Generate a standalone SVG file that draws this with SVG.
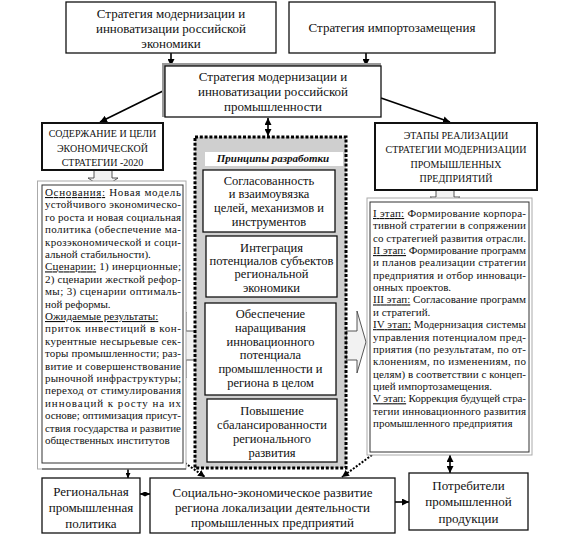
<svg xmlns="http://www.w3.org/2000/svg" width="568" height="535" viewBox="0 0 568 535">
<style>
.box{fill:#fff;stroke:#111;stroke-width:1.3}
.bb{stroke-width:2}
.t{font-family:"Liberation Serif","Times New Roman",serif;font-size:13px;text-anchor:middle;fill:#111}
.p{font-size:12.5px}
.c{font-size:10px}
.s{font-family:"Liberation Serif","Times New Roman",serif;font-size:11px;fill:#111}
.u{text-decoration:underline}
.ln{stroke:#000;stroke-width:1.6;fill:none}
.dl{stroke:#000;stroke-width:2;stroke-dasharray:2 1.6;fill:none}
.blk{fill:#f2f2f2;stroke:#444;stroke-width:0.9}
</style>
<defs>
<marker id="ah" viewBox="0 0 10 10" refX="10" refY="5" markerWidth="7" markerHeight="7" orient="auto-start-reverse" markerUnits="userSpaceOnUse"><path d="M0,0 L10,5 L0,10 z" fill="#000"/></marker>
<marker id="as" viewBox="0 0 10 10" refX="10" refY="5" markerWidth="5" markerHeight="5" orient="auto-start-reverse" markerUnits="userSpaceOnUse"><path d="M0,0 L10,5 L0,10 z" fill="#000"/></marker>
</defs>

<g id="block-arrows">
<polygon class="blk" points="94,170 112,170 112,178 118,178 103,188 88,178 94,178"/>
<polygon class="blk" points="436,190 454,190 454,197 460,197 445,206 430,197 436,197"/>
<polygon class="blk" points="197,331 186,331 186,312 172,345 186,378 186,360 197,360"/>
<polygon class="blk" points="346,331 357,331 357,311 366,342 357,373 357,360 346,360"/>
</g>

<g id="connectors">
<line class="ln" x1="171" y1="53" x2="171" y2="66" marker-end="url(#ah)"/>
<line class="ln" x1="366" y1="53" x2="366" y2="66" marker-end="url(#ah)"/>
<line class="ln" x1="165" y1="90" x2="100" y2="122" marker-end="url(#ah)"/>
<line class="ln" x1="381" y1="98" x2="450" y2="122" marker-end="url(#ah)"/>
<line class="ln" x1="268" y1="118" x2="268" y2="136" marker-start="url(#ah)" marker-end="url(#ah)"/>
<line class="ln" x1="128" y1="469" x2="128" y2="478" marker-end="url(#as)"/>
<line class="ln" x1="140" y1="494" x2="150" y2="494" marker-start="url(#as)" marker-end="url(#as)"/>
<line class="ln" x1="395" y1="502" x2="409" y2="502" marker-end="url(#ah)"/>
<line class="ln" x1="450" y1="455" x2="450" y2="473" marker-start="url(#ah)" marker-end="url(#ah)"/>
<line class="dl" x1="185" y1="463" x2="205" y2="477" marker-end="url(#ah)"/>
<line class="dl" x1="372" y1="455" x2="342" y2="477" marker-end="url(#ah)"/>
</g>

<g id="n-econ">
<rect class="box" x="66" y="2" width="210" height="51"/>
<text class="t" x="171" y="17.5">Стратегия модернизации и</text>
<text class="t" x="171" y="32.5">инноватизации российской</text>
<text class="t" x="171" y="47.5">экономики</text>
</g>

<g id="n-import">
<rect class="box" x="289" y="2" width="206" height="51"/>
<text class="t" x="392" y="32">Стратегия импортозамещения</text>
</g>

<g id="n-industry">
<rect x="162" y="63" width="219" height="54" fill="#9a9a9a"/>
<rect class="box" x="165" y="66" width="216" height="51"/>
<text class="t" x="273" y="81">Стратегия модернизации и</text>
<text class="t" x="273" y="96">инноватизации российской</text>
<text class="t" x="273" y="111">промышленности</text>
</g>

<g id="n-content">
<rect class="box bb" x="42" y="123" width="121" height="47"/>
<text class="t c" x="102.5" y="137">СОДЕРЖАНИЕ И ЦЕЛИ</text>
<text class="t c" x="102.5" y="151.5">ЭКОНОМИЧЕСКОЙ</text>
<text class="t c" x="102.5" y="166">СТРАТЕГИИ -2020</text>
</g>

<g id="n-stages">
<rect class="box bb" x="375" y="123" width="162" height="67"/>
<text class="t c" x="456" y="139">ЭТАПЫ РЕАЛИЗАЦИИ</text>
<text class="t c" x="456" y="153">СТРАТЕГИИ МОДЕРНИЗАЦИИ</text>
<text class="t c" x="456" y="167.5">ПРОМЫШЛЕННЫХ</text>
<text class="t c" x="456" y="182">ПРЕДПРИЯТИЙ</text>
</g>

<g id="n-left-text">
<rect x="37.5" y="181" width="148.5" height="288" fill="#fff" stroke="#aaa" stroke-width="1"/>
<rect x="42" y="185" width="141" height="278" fill="#fff" stroke="#333" stroke-width="1"/>
<line x1="42" y1="469" x2="186" y2="469" stroke="#333" stroke-width="1.2"/>
<text class="s" x="45" y="196" textLength="136" lengthAdjust="spacing"><tspan class="u">Основания:</tspan> Новая модель</text>
<text class="s" x="45" y="208.4" textLength="136" lengthAdjust="spacing">устойчивого экономическо-</text>
<text class="s" x="45" y="220.8" textLength="136" lengthAdjust="spacing">го роста и новая социальная</text>
<text class="s" x="45" y="233.2" textLength="136" lengthAdjust="spacing">политика (обеспечение ма-</text>
<text class="s" x="45" y="245.6" textLength="136" lengthAdjust="spacing">крозэкономической и соци-</text>
<text class="s" x="45" y="258">альной стабильности).</text>
<text class="s" x="45" y="270.4" textLength="136" lengthAdjust="spacing"><tspan class="u">Сценарии:</tspan> 1) инерционные;</text>
<text class="s" x="45" y="282.8" textLength="136" lengthAdjust="spacing">2) сценарии жесткой рефор-</text>
<text class="s" x="45" y="295.2" textLength="136" lengthAdjust="spacing">мы; 3) сценарии оптималь-</text>
<text class="s" x="45" y="307.6">ной реформы.</text>
<text class="s u" x="45" y="320">Ожидаемые результаты:</text>
<text class="s" x="45" y="332.4" textLength="136" lengthAdjust="spacing">приток инвестиций в кон-</text>
<text class="s" x="45" y="344.8" textLength="136" lengthAdjust="spacing">курентные несырьевые сек-</text>
<text class="s" x="45" y="357.2" textLength="136" lengthAdjust="spacing">торы промышленности; раз-</text>
<text class="s" x="45" y="369.6" textLength="136" lengthAdjust="spacing">витие и совершенствование</text>
<text class="s" x="45" y="382" textLength="136" lengthAdjust="spacing">рыночной инфраструктуры;</text>
<text class="s" x="45" y="394.4" textLength="136" lengthAdjust="spacing">переход от стимулирования</text>
<text class="s" x="45" y="406.8" textLength="136" lengthAdjust="spacing">инноваций к росту на их</text>
<text class="s" x="45" y="419.2" textLength="136" lengthAdjust="spacing">основе; оптимизация присут-</text>
<text class="s" x="45" y="431.6" textLength="136" lengthAdjust="spacing">ствия государства и развитие</text>
<text class="s" x="45" y="444">общественных институтов</text>
</g>

<g id="n-principles">
<rect x="195" y="137" width="151" height="331" fill="#cfcfcf" stroke="#000" stroke-width="3" stroke-dasharray="3 1.8"/>
<rect x="205" y="152" width="138" height="14" fill="#fff"/>
<text class="t" x="273" y="162" style="font-size:11px;font-weight:bold;font-style:italic">Принципы разработки</text>
</g>

<g id="n-p1">
<rect class="box" x="203" y="170" width="132" height="62"/>
<text class="t p" x="269" y="184.5">Согласованность</text>
<text class="t p" x="269" y="198">и взаимоувязка</text>
<text class="t p" x="269" y="211.5">целей, механизмов и</text>
<text class="t p" x="269" y="225.5">инструментов</text>
</g>

<g id="n-p2">
<rect class="box" x="206" y="236" width="131" height="61"/>
<text class="t p" x="271.5" y="251.5">Интеграция</text>
<text class="t p" x="271.5" y="264.5">потенциалов субъектов</text>
<text class="t p" x="271.5" y="278">региональной</text>
<text class="t p" x="271.5" y="291.5">экономики</text>
</g>

<g id="n-p3">
<rect class="box" x="205" y="303" width="131" height="92"/>
<text class="t p" x="270.5" y="317.5">Обеспечение</text>
<text class="t p" x="270.5" y="331.5">наращивания</text>
<text class="t p" x="270.5" y="345.5">инновационного</text>
<text class="t p" x="270.5" y="358.5">потенциала</text>
<text class="t p" x="270.5" y="372.5">промышленности и</text>
<text class="t p" x="270.5" y="386.5">региона в целом</text>
</g>

<g id="n-p4">
<rect class="box" x="207" y="399" width="130" height="63"/>
<text class="t p" x="272" y="414.5">Повышение</text>
<text class="t p" x="272" y="429">сбалансированности</text>
<text class="t p" x="272" y="442.5">регионального</text>
<text class="t p" x="272" y="456.5">развития</text>
</g>

<g id="n-right-text">
<rect x="367" y="198" width="165" height="257" fill="#fff" stroke="#aaa" stroke-width="1"/>
<rect x="370" y="202" width="159" height="250" fill="#fff" stroke="#333" stroke-width="1"/>
<text class="s" x="373" y="217" textLength="153" lengthAdjust="spacing"><tspan class="u">I этап:</tspan> Формирование корпора-</text>
<text class="s" x="373" y="229.35" textLength="153" lengthAdjust="spacing">тивной стратегии в сопряжении</text>
<text class="s" x="373" y="241.7" textLength="153" lengthAdjust="spacing">со стратегией развития отрасли.</text>
<text class="s" x="373" y="254.05" textLength="153" lengthAdjust="spacing"><tspan class="u">II этап:</tspan> Формирование программ</text>
<text class="s" x="373" y="266.4" textLength="153" lengthAdjust="spacing">и планов  реализации стратегии</text>
<text class="s" x="373" y="278.75" textLength="153" lengthAdjust="spacing">предприятия и отбор инноваци-</text>
<text class="s" x="373" y="291.1">онных проектов.</text>
<text class="s" x="373" y="303.45" textLength="153" lengthAdjust="spacing"><tspan class="u">III этап:</tspan> Согласование программ</text>
<text class="s" x="373" y="315.8">и стратегий.</text>
<text class="s" x="373" y="328.15" textLength="153" lengthAdjust="spacing"><tspan class="u">IV этап:</tspan> Модернизация системы</text>
<text class="s" x="373" y="340.5" textLength="153" lengthAdjust="spacing">управления потенциалом пред-</text>
<text class="s" x="373" y="352.85" textLength="153" lengthAdjust="spacing">приятия (по результатам, по от-</text>
<text class="s" x="373" y="365.2" textLength="153" lengthAdjust="spacing">клонениям, по изменениям, по</text>
<text class="s" x="373" y="377.55" textLength="153" lengthAdjust="spacing">целям) в соответствии с концеп-</text>
<text class="s" x="373" y="389.9">цией импортозамещения.</text>
<text class="s" x="373" y="402.25" textLength="153" lengthAdjust="spacing"><tspan class="u">V этап:</tspan> Коррекция будущей стра-</text>
<text class="s" x="373" y="414.6" textLength="153" lengthAdjust="spacing">тегии инновационного развития</text>
<text class="s" x="373" y="426.95">промышленного предприятия</text>
</g>

<g id="n-regional">
<rect class="box" x="42" y="478" width="98" height="55"/>
<text class="t" x="91" y="495.5">Региональная</text>
<text class="t" x="91" y="511.5">промышленная</text>
<text class="t" x="91" y="527.5">политика</text>
</g>

<g id="n-social">
<rect class="box" x="150" y="478" width="245" height="55"/>
<text class="t" x="272.5" y="496.5">Социально-экономическое развитие</text>
<text class="t" x="272.5" y="511.5">региона локализации деятельности</text>
<text class="t" x="272.5" y="526.5">промышленных предприятий</text>
</g>

<g id="n-consumers">
<rect class="box" x="409" y="473" width="119" height="57"/>
<text class="t" x="468.5" y="489.5">Потребители</text>
<text class="t" x="468.5" y="506">промышленной</text>
<text class="t" x="468.5" y="522.5">продукции</text>
</g>
</svg>
